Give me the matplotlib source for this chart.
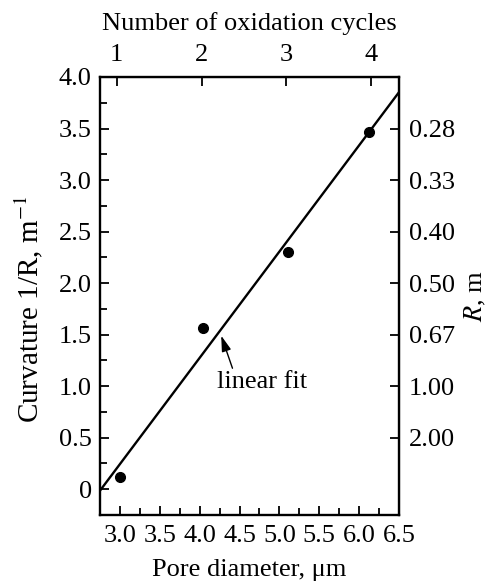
import numpy as np
import matplotlib
matplotlib.use("Agg")
import matplotlib.pyplot as plt
from matplotlib.ticker import MultipleLocator, FuncFormatter

plt.rcParams['font.family'] = ['Liberation Serif', 'DejaVu Serif']
plt.rcParams['mathtext.fontset'] = 'stix'

# datos
pore_diameter = [3.0, 4.04, 5.11, 6.13]
curvature = [0.12, 1.56, 2.30, 3.47]

# eje superior: número de ciclos de oxidación
cycle_ticks = [1, 2, 3, 4]
cycle1_diameter = 2.96
diameter_per_cycle = 1.063

# eje derecho: R = 1/curvatura
r_ticks = [0.5, 1.0, 1.5, 2.0, 2.5, 3.0, 3.5]
r_labels = ['2.00', '1.00', '0.67', '0.50', '0.40', '0.33', '0.28']

fs = 19

fig = plt.figure(figsize=(4.91, 5.84), dpi=100)
ax = fig.add_axes([0.2037, 0.1182, 0.6089, 0.75])

# ajuste lineal
slope, intercept = np.polyfit(pore_diameter, curvature, 1)
xfit = np.array([2.6, 6.6])
ax.plot(xfit, slope * xfit + intercept, color='black', lw=1.7)

ax.plot(pore_diameter, curvature, 'o', color='black', markersize=7)

ax.annotate('linear fit', xy=(4.27, 1.49), xytext=(4.22, 1.04),
            fontsize=fs, va='center', ha='left',
            arrowprops=dict(arrowstyle='-|>,head_length=0.5,head_width=0.15',
                            color='black', lw=1.0,
                            shrinkA=0, shrinkB=0, relpos=(0.18, 1.0)))

ax.set_xlim(2.75, 6.5)
ax.set_ylim(-0.25, 4.0)

ax.xaxis.set_major_locator(MultipleLocator(0.5))
ax.xaxis.set_minor_locator(MultipleLocator(0.25))
ax.yaxis.set_major_locator(MultipleLocator(0.5))
ax.yaxis.set_minor_locator(MultipleLocator(0.25))
ax.xaxis.set_major_formatter(FuncFormatter(lambda v, p: '%.1f' % v))
ax.yaxis.set_major_formatter(FuncFormatter(lambda v, p: '0' if abs(v) < 1e-9 else '%.1f' % v))
ax.tick_params(which='both', direction='in', top=False, right=False,
               labelsize=fs, width=1.3)
ax.tick_params(which='major', length=6.5)
ax.tick_params(which='minor', length=5)
ax.tick_params(axis='x', which='major', pad=7)
ax.tick_params(axis='y', which='major', pad=6)
for s in ax.spines.values():
    s.set_linewidth(1.7)

ax.set_xlabel('Pore diameter, μm', fontsize=fs, labelpad=9)
ax.set_ylabel('Curvature 1/R, m$^{-1}$', fontsize=21)
ax.yaxis.set_label_coords(-0.185, 0.47)

def d_to_cycles(d):
    return 1 + (d - cycle1_diameter) / diameter_per_cycle

def cycles_to_d(c):
    return cycle1_diameter + (c - 1) * diameter_per_cycle

top = ax.secondary_xaxis('top', functions=(d_to_cycles, cycles_to_d))
top.set_xticks(cycle_ticks)
top.set_xticklabels([str(c) for c in cycle_ticks])
top.tick_params(direction='in', length=6.5, width=1.3, labelsize=fs, pad=8)
top.set_xlabel('Number of oxidation cycles', fontsize=fs, labelpad=10)

right = ax.secondary_yaxis('right')
right.set_yticks(r_ticks)
right.set_yticklabels(r_labels)
right.tick_params(direction='in', length=6.5, width=1.3, labelsize=fs, pad=7)
right.set_ylabel('$R$, m', fontsize=fs, labelpad=6)

fig.savefig('out.png', dpi=100)
